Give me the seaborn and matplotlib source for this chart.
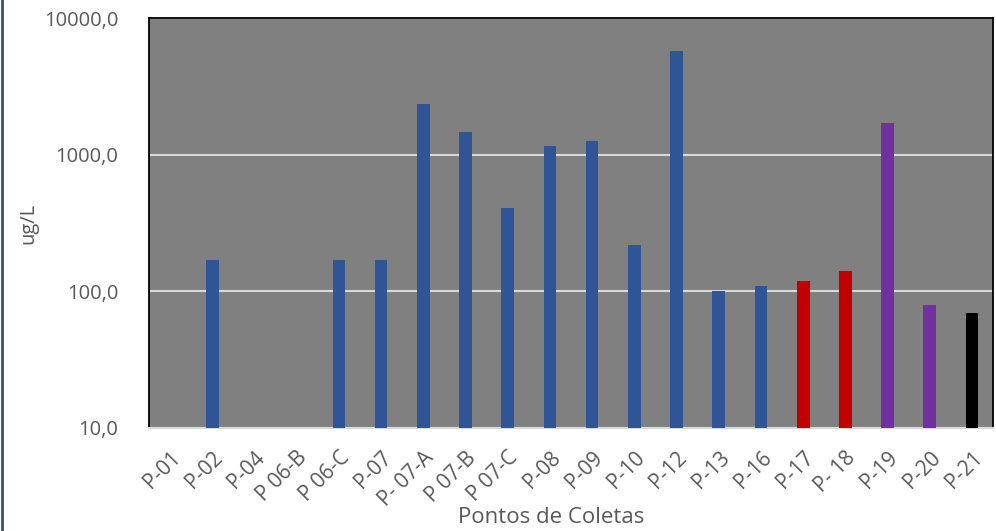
import numpy as np
import pandas as pd
import matplotlib
matplotlib.use("Agg")
import matplotlib.pyplot as plt
import seaborn as sns
from matplotlib.ticker import FixedLocator, FuncFormatter, NullLocator

#=============================================================================
# data
#=============================================================================
pontos = ["P-01", "P-02", "P-04", "P 06-B", "P 06-C", "P-07", "P- 07-A",
          "P 07-B", "P 07-C", "P-08", "P-09", "P-10", "P-12", "P-13",
          "P-16", "P-17", "P- 18", "P-19", "P-20", "P-21"]
valores = [np.nan, 170, np.nan, np.nan, 170, 170, 2350,
           1470, 410, 1150, 1250, 220, 5700, 100,
           110, 120, 140, 1700, 80, 70]
grupo = ["A", "A", "A", "A", "A", "A", "A",
         "A", "A", "A", "A", "A", "A", "A",
         "A", "B", "B", "C", "C", "D"]
cores = {"A": "#2F5597", "B": "#C00000", "C": "#7030A0", "D": "#000000"}
y_ticks = [10, 100, 1000, 10000]

df = pd.DataFrame({"ponto": pontos, "valor": valores, "grupo": grupo})

plt.rcParams["font.family"] = ["Open Sans", "DejaVu Sans"]

fig = plt.figure(figsize=(9.96, 5.31), dpi=100)
ax = fig.add_axes([0.1496, 0.194, 0.8475, 0.772])
ax.set_facecolor("#808080")

sns.barplot(data=df, x="ponto", y="valor", hue="grupo", palette=cores,
            dodge=False, width=0.3, legend=False, ax=ax, zorder=3,
            saturation=1)

ax.set_yscale("log")
ax.set_ylim(10, 10000)
ax.set_xlim(-0.5, len(pontos) - 0.5)
ax.yaxis.set_major_locator(FixedLocator(y_ticks))
ax.yaxis.set_minor_locator(NullLocator())
ax.yaxis.set_major_formatter(FuncFormatter(lambda v, p: f"{v:.1f}".replace(".", ",")))

# grid
ax.grid(axis="y", color="#D9D9D9", linewidth=1.5, zorder=1)
ax.set_axisbelow(True)

for s in ["left", "top", "right"]:
    ax.spines[s].set_color("#000000")
    ax.spines[s].set_linewidth(1.3)
ax.spines["bottom"].set_color("#D9D9D9")
ax.spines["bottom"].set_linewidth(1.5)

ax.tick_params(axis="y", length=0, labelsize=14.5, labelcolor="#595959", pad=22)
ax.tick_params(axis="x", length=0, labelsize=15, labelcolor="#595959", pad=14)
plt.setp(ax.get_xticklabels(), rotation=45, ha="right", rotation_mode="anchor")

ax.set_xlabel("Pontos de Coletas", fontsize=16, color="#595959")
ax.xaxis.set_label_coords(0.476, -0.192)
ax.set_ylabel("ug/L", fontsize=14.5, color="#595959", labelpad=4)

# left border of the figure frame
fig.add_artist(plt.Line2D([0.002, 0.002], [0, 1], color="#2F4F7F", linewidth=2))

fig.savefig("out.png", dpi=100)
